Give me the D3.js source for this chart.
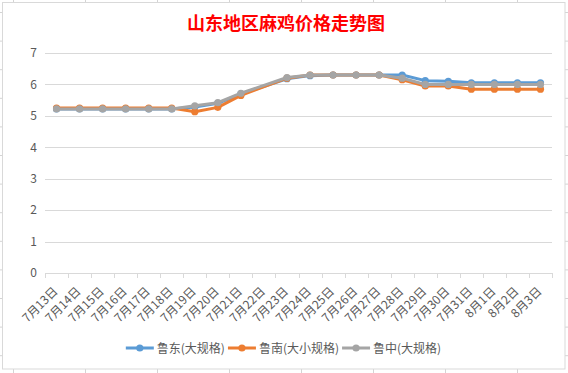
<!DOCTYPE html>
<html>
<head>
<meta charset="utf-8">
<script src="https://cdn.jsdelivr.net/npm/d3@7"></script>
<style>
  body { margin: 0; background: #fff; }
  text { font-family: "Noto Sans CJK SC", "Noto Sans", sans-serif; }
</style>
</head>
<body>
<div id="chart"></div>
<script>
// Categories (dates) and series values
const dates = ["7月13日", "7月14日", "7月15日", "7月16日", "7月17日", "7月18日", "7月19日",
  "7月20日", "7月21日", "7月22日", "7月23日", "7月24日", "7月25日", "7月26日", "7月27日",
  "7月28日", "7月29日", "7月30日", "7月31日", "8月1日", "8月2日", "8月3日"];
const luDong = [5.22, 5.22, 5.22, 5.22, 5.22, 5.22, 5.28, 5.40, 5.70, null, 6.18, 6.28,
  6.30, 6.30, 6.30, 6.30, 6.12, 6.10, 6.05, 6.05, 6.05, 6.05];
const luNan = [5.25, 5.25, 5.25, 5.25, 5.25, 5.25, 5.13, 5.27, 5.65, null, 6.20, 6.30,
  6.30, 6.30, 6.30, 6.15, 5.95, 5.95, 5.85, 5.85, 5.85, 5.85];
const luZhong = [5.22, 5.22, 5.22, 5.22, 5.22, 5.22, 5.32, 5.42, 5.72, null, 6.22, 6.30,
  6.30, 6.30, 6.30, 6.20, 6.00, 6.00, 6.00, 6.00, 6.00, 6.00];
const seriesNames = ["鲁东(大规格)", "鲁南(大小规格)", "鲁中(大规格)"];
const yTicks = [0, 1, 2, 3, 4, 5, 6, 7];

const colors = ["#5B9BD5", "#ED7D31", "#A5A5A5"];
const series = [luDong, luNan, luZhong].map((vals, i) => ({
  name: seriesNames[i],
  color: colors[i],
  points: vals.map((v, j) => ({ date: dates[j], value: v })).filter(d => d.value != null)
}));

const W = 568, H = 373;
const plot = { left: 45, right: 552, top: 53, bottom: 273 };

const svg = d3.select("#chart").append("svg")
  .attr("width", W).attr("height", H);

// spreadsheet cell lines behind the chart
const bg = svg.append("g").attr("stroke", "#d4d4d4").attr("stroke-width", 1);
d3.range(13.5, W, 72).forEach(v => bg.append("line").attr("x1", v).attr("x2", v).attr("y1", 0).attr("y2", H));
d3.range(12.5, H, 28.6).forEach(v => bg.append("line").attr("x1", 0).attr("x2", W).attr("y1", v).attr("y2", v));

// chart area
svg.append("rect")
  .attr("x", 2.5).attr("y", 2.5).attr("width", 562.5).attr("height", 366.5)
  .attr("fill", "#fff").attr("stroke", "#d9d9d9");

const x = d3.scaleBand().domain(dates).range([plot.left, plot.right]);
const y = d3.scaleLinear().domain([0, 7]).range([plot.bottom, plot.top]);
const cx = d => x(d) + x.bandwidth() / 2;

// title
svg.append("text")
  .attr("x", 286).attr("y", 30)
  .attr("text-anchor", "middle")
  .attr("font-size", 18).attr("font-weight", "bold")
  .attr("fill", "#ff0000")
  .text("山东地区麻鸡价格走势图");

// horizontal gridlines
svg.append("g").selectAll("line")
  .data(yTicks.filter(t => t > 0))
  .join("line")
    .attr("x1", plot.left).attr("x2", plot.right)
    .attr("y1", d => Math.round(y(d)) + 0.5).attr("y2", d => Math.round(y(d)) + 0.5)
    .attr("stroke", "#d9d9d9");

// y axis labels
const yAxis = svg.append("g")
  .attr("transform", "translate(37,0)")
  .call(d3.axisLeft(y).tickValues(yTicks).tickFormat(d3.format("d")).tickSize(0).tickPadding(0));
yAxis.select(".domain").remove();
yAxis.selectAll("text")
  .attr("font-size", 12).attr("fill", "#595959")
  .attr("font-family", "\"Noto Sans CJK SC\", sans-serif");

// x axis line and ticks at category boundaries
const xa = svg.append("g").attr("stroke", "#d9d9d9");
xa.append("line")
  .attr("x1", plot.left).attr("x2", plot.right)
  .attr("y1", plot.bottom + 0.5).attr("y2", plot.bottom + 0.5);
xa.selectAll("line.tick")
  .data(dates.map(d => x(d)).concat([plot.right]))
  .join("line")
    .attr("class", "tick")
    .attr("x1", d => Math.round(d) + 0.5).attr("x2", d => Math.round(d) + 0.5)
    .attr("y1", plot.bottom).attr("y2", plot.bottom + 5);

// rotated date labels
svg.append("g").selectAll("text")
  .data(dates)
  .join("text")
    .attr("transform", d => `translate(${cx(d) + 2},${plot.bottom + 19}) rotate(-45)`)
    .attr("text-anchor", "end")
    .attr("font-size", 12)
    .attr("fill", "#595959")
    .text(d => d);

// lines and markers
const line = d3.line()
  .x(d => cx(d.date))
  .y(d => y(d.value));

series.forEach(s => {
  svg.append("path")
    .datum(s.points)
    .attr("fill", "none")
    .attr("stroke", s.color)
    .attr("stroke-width", 3)
    .attr("stroke-linejoin", "round")
    .attr("d", line);
  svg.append("g").selectAll("circle")
    .data(s.points)
    .join("circle")
      .attr("cx", d => cx(d.date))
      .attr("cy", d => y(d.value))
      .attr("r", 3.6)
      .attr("fill", s.color);
});

// legend
const legend = svg.append("g");
let lx = 0;
series.forEach(s => {
  const item = legend.append("g").attr("transform", `translate(${lx},0)`);
  item.append("line")
    .attr("x1", 0).attr("x2", 28).attr("y1", 0).attr("y2", 0)
    .attr("stroke", s.color).attr("stroke-width", 3);
  item.append("circle").attr("cx", 14).attr("cy", 0).attr("r", 3.6).attr("fill", s.color);
  const t = item.append("text")
    .attr("x", 31).attr("y", 4.5)
    .attr("font-size", 12).attr("fill", "#595959")
    .text(s.name);
  lx += 31 + t.node().getComputedTextLength() + 3;
});
legend.attr("transform", `translate(${(W - lx) / 2 + 1},348)`);
</script>
</body>
</html>
